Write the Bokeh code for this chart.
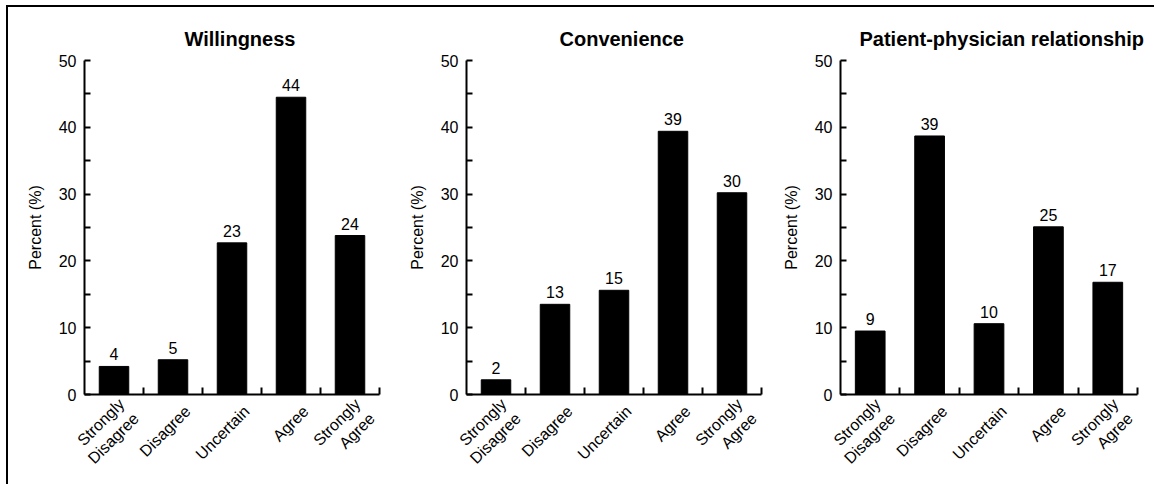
import math
from bokeh.plotting import figure
from bokeh.layouts import row
from bokeh.models import FixedTicker, ColumnDataSource, Range1d
from bokeh.embed import file_html
from bokeh.resources import INLINE
from bokeh.core.properties import value

categories = ["Strongly\nDisagree", "Disagree", "Uncertain", "Agree", "Strongly\nAgree"]
titles = ["Willingness", "Convenience", "Patient-physician relationship"]
willingness = [4.2, 5.2, 22.7, 44.5, 23.8]
willingness_labels = ["4", "5", "23", "44", "24"]
convenience = [2.2, 13.5, 15.6, 39.4, 30.2]
convenience_labels = ["2", "13", "15", "39", "30"]
relationship = [9.5, 38.7, 10.6, 25.1, 16.8]
relationship_labels = ["9", "39", "10", "25", "17"]
y_ticks = [0, 10, 20, 30, 40, 50]
y_minor_ticks = [5, 15, 25, 35, 45]
y_label = "Percent (%)"

FONT = "Liberation Sans"
LABEL_SHIFT = 0.25  # rotated category labels end a little right of the bar centre


def make_panel(title, vals, labels, width, height, left, right, top, bottom, title_offset):
    n = len(categories)
    xs = [i + 0.5 for i in range(n)]
    label_xs = [x + LABEL_SHIFT for x in xs]
    src = ColumnDataSource(dict(x=xs, top=vals, label=labels))
    p = figure(width=width, height=height, output_backend="svg", toolbar_location=None,
               x_range=Range1d(0, n), y_range=Range1d(y_ticks[0], y_ticks[-1]),
               min_border_left=left, min_border_right=right,
               min_border_top=top, min_border_bottom=bottom,
               title=title)
    p.outline_line_color = None
    p.xgrid.grid_line_color = None
    p.ygrid.grid_line_color = None
    p.background_fill_color = "white"
    p.border_fill_color = "white"

    p.title.text_font = FONT
    p.title.text_font_size = "20px"
    p.title.text_font_style = "bold"
    p.title.align = "left"
    p.title.offset = title_offset
    p.title.standoff = 21
    p.title.text_color = "black"

    p.vbar(x="x", top="top", width=0.5, source=src, fill_color="black", line_color="black")
    p.text(x="x", y="top", text="label", source=src, text_align="center",
           text_baseline="bottom", y_offset=-6, text_font=value(FONT),
           text_font_size="16px", text_color="black")

    xa = p.xaxis[0]
    xa.ticker = FixedTicker(ticks=label_xs, minor_ticks=[i + 1 for i in range(n)])
    xa.major_label_overrides = {x: c for x, c in zip(label_xs, categories)}
    xa.major_label_orientation = math.pi / 4
    xa.major_tick_line_color = None
    xa.minor_tick_in = 7
    xa.minor_tick_out = 0
    xa.minor_tick_line_width = 2
    xa.minor_tick_line_color = "black"
    xa.axis_line_width = 2
    xa.axis_line_color = "black"
    xa.major_label_text_font = FONT
    xa.major_label_text_font_size = "16px"
    xa.major_label_text_color = "black"
    xa.major_label_standoff = 8

    ya = p.yaxis[0]
    ya.ticker = FixedTicker(ticks=y_ticks, minor_ticks=y_minor_ticks)
    ya.major_tick_in = 6
    ya.major_tick_out = 0
    ya.minor_tick_in = 6
    ya.minor_tick_out = 0
    ya.major_tick_line_width = 2
    ya.minor_tick_line_width = 2
    ya.major_tick_line_color = "black"
    ya.minor_tick_line_color = "black"
    ya.axis_line_width = 2
    ya.axis_line_color = "black"
    ya.major_label_text_font = FONT
    ya.major_label_text_font_size = "16px"
    ya.major_label_text_color = "black"
    ya.major_label_standoff = 8
    ya.axis_label = y_label
    ya.axis_label_text_font = FONT
    ya.axis_label_text_font_size = "16px"
    ya.axis_label_text_font_style = "normal"
    ya.axis_label_text_color = "black"
    ya.axis_label_standoff = 12
    return p


p1 = make_panel(titles[0], willingness, willingness_labels, 382, 477, 76, 11, 53, 88, 100)
p2 = make_panel(titles[1], convenience, convenience_labels, 382, 477, 76, 11, 53, 88, 93)
p3 = make_panel(titles[2], relationship, relationship_labels, 382, 477, 68, 17, 50, 90, 19)

layout = row(p1, p2, p3, styles={"margin-left": "6px", "margin-top": "5px",
                                 "border-top": "2px solid black",
                                 "border-left": "2px solid black"})

with open("out.html", "w") as f:
    f.write(file_html(layout, INLINE))
